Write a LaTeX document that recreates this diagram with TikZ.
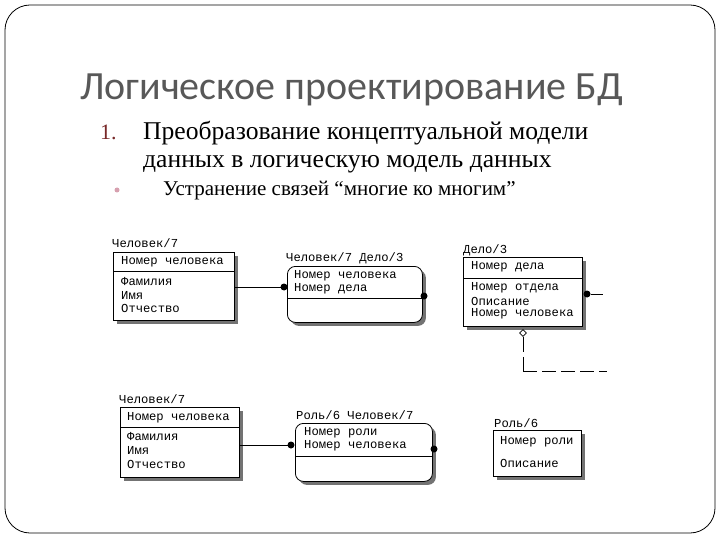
\documentclass[tikz,border=0pt]{standalone}
\usepackage{fontspec}
\setmainfont{Liberation Serif}
\newfontfamily\titlefont{Carlito}
\newfontfamily\erfont{Liberation Mono}
\usetikzlibrary{shadows,shapes.geometric}
\definecolor{titlegray}{RGB}{88,88,88}
\definecolor{numred}{RGB}{120,40,40}
\definecolor{bulletpink}{RGB}{215,160,175}
\tikzset{
  ent/.style={draw, fill=white, line width=0.8pt, inner sep=0pt, anchor=north west,
    drop shadow={shadow xshift=3.5pt, shadow yshift=-3.5pt, fill=black!55, opacity=1}},
  rent/.style={ent, rounded corners=8pt},
  etxt/.style={anchor=west, inner sep=0pt, font=\erfont\fontsize{12.2}{13}\selectfont},
  dot/.style={circle, fill=black, inner sep=0pt, minimum size=7pt},
  conn/.style={line width=0.8pt},
}
\begin{document}
\begin{tikzpicture}[x=1pt,y=-1pt]
\useasboundingbox (0,0) rectangle (720,540);
\draw[line width=0.8pt, rounded corners=25pt] (5,5) rectangle (715,533);

\node[anchor=base west, inner sep=0pt, text=titlegray, font=\titlefont\fontsize{40}{44}\selectfont] (title) at (80,100) {Логическое проектирование БД};
\node[anchor=base west, inner sep=0pt, text=numred, font=\fontsize{22}{26}\selectfont] (num) at (100,140) {1.};
\node[anchor=base west, inner sep=0pt, font=\fontsize{25.6}{28}\selectfont] (l1) at (143,140) {Преобразование концептуальной модели};
\node[anchor=base west, inner sep=0pt, font=\fontsize{25.6}{28}\selectfont] (l2) at (143,168) {данных в логическую модель данных};
\node[circle, fill=bulletpink, inner sep=0pt, minimum size=5pt] (bul) at (117,190) {};
\node[anchor=base west, inner sep=0pt, font=\fontsize{21}{24}\selectfont] (l3) at (163,196) {Устранение связей “многие ко многим”};

% Box 1
\node[ent, minimum width=121pt, minimum height=68pt] (b1) at (113,252) {};
\node[etxt] (b1t) at (112,243) {Человек/7};
\node[etxt] (b1k) at (121,262) {Номер человека};
\draw[conn] (b1.west |- 0,271) -- (b1.east |- 0,271);
\node[etxt] (b1a) at (121,282) {Фамилия};
\node[etxt] (b1b) at (121,295) {Имя};
\node[etxt] (b1c) at (121,308) {Отчество};

% Box 2
\node[rent, minimum width=135pt, minimum height=56pt] (b2) at (287,266) {};
\node[etxt] (b2t) at (286,258) {Человек/7 Дело/3};
\node[etxt] (b2k) at (294,276) {Номер человека};
\node[etxt] (b2l) at (294,289) {Номер дела};
\draw[conn] (b2.west |- 0,298) -- (b2.east |- 0,298);
\coordinate (d1) at (284,287);
\draw[conn] (b1.east |- d1) -- (d1);
\node[dot] (d1n) at (d1) {};
\node[dot] (d2n) at (424,296) {};

% Box 3
\node[ent, minimum width=119pt, minimum height=69pt] (b3) at (463,257) {};
\node[etxt] (b3t) at (463,250) {Дело/3};
\node[etxt] (b3k) at (471,267) {Номер дела};
\draw[conn] (b3.west |- 0,278) -- (b3.east |- 0,278);
\node[etxt] (b3a) at (471,288) {Номер отдела};
\node[etxt] (b3b) at (471,301) {Описание};
\node[etxt] (b3c) at (471,314) {Номер человека};
\node[dot] (d3n) at (587,294) {};
\coordinate (e3) at (603,294);
\draw[conn] (d3n) -- (e3);
\node[draw, diamond, aspect=1, inner sep=0pt, minimum size=7pt, fill=white, line width=0.7pt] (dia) at (523,333) {};
\coordinate (c1) at (523,371);
\coordinate (c2) at (607,371);
\draw[conn, dash pattern=on 15pt off 5pt] (dia.south) -- (c1);
\draw[conn, dash pattern=on 14pt off 5pt] (c1) -- (c2);

% Box 4
\node[ent, minimum width=119pt, minimum height=70pt] (b4) at (120,407) {};
\node[etxt] (b4t) at (119,399) {Человек/7};
\node[etxt] (b4k) at (127,418) {Номер человека};
\draw[conn] (b4.west |- 0,427) -- (b4.east |- 0,427);
\node[etxt] (b4a) at (127,437) {Фамилия};
\node[etxt] (b4b) at (127,450) {Имя};
\node[etxt] (b4c) at (127,464) {Отчество};

% Box 5
\node[rent, minimum width=137pt, minimum height=58pt] (b5) at (295,423) {};
\node[etxt] (b5t) at (296,415) {Роль/6 Человек/7};
\node[etxt] (b5k) at (304,433) {Номер роли};
\node[etxt] (b5l) at (304,446) {Номер человека};
\draw[conn] (b5.west |- 0,456) -- (b5.east |- 0,456);
\coordinate (d4) at (291,445);
\draw[conn] (b4.east |- d4) -- (d4);
\node[dot] (d4n) at (d4) {};
\node[dot] (d5n) at (434,449) {};

% Box 6
\node[ent, minimum width=88pt, minimum height=46pt] (b6) at (493,430) {};
\node[etxt] (b6t) at (494,423) {Роль/6};
\node[etxt] (b6k) at (500,442) {Номер роли};
\node[etxt] (b6a) at (500,463) {Описание};
\end{tikzpicture}
\end{document}
